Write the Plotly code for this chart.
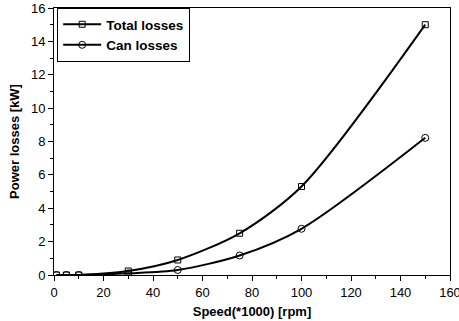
import plotly.graph_objects as go

speed = [1, 5, 10, 30, 50, 75, 100, 150]
total_losses = [0.0, 0.0, 0.0, 0.24, 0.9, 2.5, 5.3, 15.0]
can_losses = [0.0, 0.0, 0.0, 0.1, 0.3, 1.17, 2.77, 8.22]

fig = go.Figure()
fig.add_trace(go.Scatter(
    x=speed, y=total_losses, name="Total losses", mode="lines+markers",
    line=dict(color="black", width=2, shape="spline", smoothing=0.8),
    marker=dict(symbol="square-open", size=6, color="black", line=dict(width=1)),
))
fig.add_trace(go.Scatter(
    x=speed, y=can_losses, name="Can losses", mode="lines+markers",
    line=dict(color="black", width=2, shape="spline", smoothing=0.8),
    marker=dict(symbol="circle-open", size=7, color="black", line=dict(width=1)),
))

fam = "Liberation Sans, Arial, sans-serif"
fig.update_layout(
    width=459, height=321,
    margin=dict(l=54, r=9, t=8, b=46),
    paper_bgcolor="white", plot_bgcolor="white",
    font=dict(family=fam, size=12, color="black"),
    showlegend=True,
    legend=dict(x=0.008, y=1.0, xanchor="left", yanchor="top",
                bordercolor="black", borderwidth=1, bgcolor="white",
                font=dict(family=fam, size=13.5, color="black", weight="bold"),
                tracegroupgap=0, itemwidth=38),
)
fig.update_xaxes(
    range=[0, 160], dtick=20, tick0=0, showgrid=False, zeroline=False,
    showline=True, linecolor="black", linewidth=1, mirror=True,
    ticks="outside", ticklen=5, tickcolor="black",
    minor=dict(ticks="outside", ticklen=3, dtick=10, tickcolor="black"),
    title=dict(text="Speed(*1000) [rpm]", font=dict(size=13, weight="bold"), standoff=8),
    tickfont=dict(size=13), automargin=False, ticklabeloverflow="allow",
)
fig.update_yaxes(
    range=[0, 16], dtick=2, tick0=0, showgrid=False, zeroline=False,
    showline=True, linecolor="black", linewidth=1, mirror=True,
    ticks="outside", ticklen=5, tickcolor="black",
    minor=dict(ticks="outside", ticklen=3, dtick=1, tickcolor="black"),
    title=dict(text="Power losses [kW]", font=dict(size=13, weight="bold"), standoff=8),
    tickfont=dict(size=13), automargin=False,
)
fig.write_html("out.html")
